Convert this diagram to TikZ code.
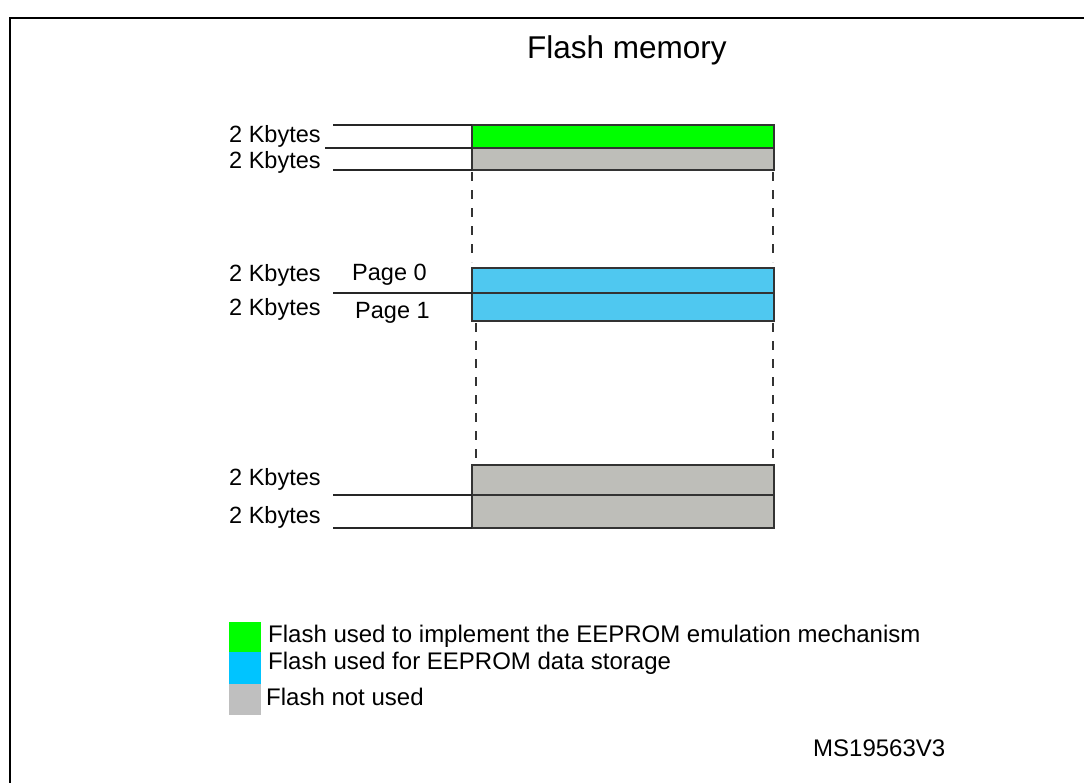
\documentclass[tikz,border=0pt]{standalone}
\usepackage{fontspec}
\setmainfont{Liberation Sans}
\begin{document}
\begin{tikzpicture}[x=1pt,y=-1pt,
  memblock/.style={draw=black!80, line width=1.5pt, inner sep=0pt, outer sep=0pt,
    minimum width=302pt, anchor=north west},
  tick/.style={draw=black!85, line width=1.3pt},
  gap/.style={draw=black!80, line width=1.5pt, dash pattern=on 9pt off 9pt},
  kb/.style={font=\fontsize{23.5}{27}\selectfont, anchor=west, inner sep=0pt},
  pg/.style={font=\fontsize{23.5}{27}\selectfont, anchor=west, inner sep=0pt},
  lg/.style={font=\fontsize{24}{28}\selectfont, anchor=west, inner sep=0pt},
  swatch/.style={inner sep=0pt, outer sep=0pt, minimum width=32pt, anchor=north west}]
\useasboundingbox (0,0) rectangle (1084,782);
\definecolor{flgreen}{HTML}{00FF00}
\definecolor{flblue}{HTML}{4FC8F0}
\definecolor{flgray}{HTML}{BEBEB9}
\definecolor{lgblue}{HTML}{00C4FF}
\definecolor{lggray}{HTML}{BFBFBF}
% frame
\draw[line width=2.2pt] (10,790) -- (10,18) -- (1095,18);
% title
\node[font=\fontsize{31.5}{36}\selectfont] (title) at (627,50) {Flash memory};
% top blocks
\node[memblock, fill=flgreen, minimum height=23pt] (g1) at (472,125) {};
\node[memblock, fill=flgray, minimum height=22pt] (g2) at (472,148) {};
% middle blocks
\node[memblock, fill=flblue, minimum height=25pt] (b1) at (472,268) {};
\node[memblock, fill=flblue, minimum height=28pt] (b2) at (472,293) {};
% bottom blocks
\node[memblock, fill=flgray, minimum height=30pt] (u1) at (472,465) {};
\node[memblock, fill=flgray, minimum height=33pt] (u2) at (472,495) {};
% tick coordinates
\coordinate (t1) at (333,0);
\coordinate (t2) at (325,0);
\draw[tick] (g1.north west) -- (g1.north west -| t1);
\draw[tick] (g1.south west) -- (g1.south west -| t2);
\draw[tick] (g2.south west) -- (g2.south west -| t1);
\draw[tick] (b1.south west) -- (b1.south west -| t1);
\draw[tick] (u1.south west) -- (u1.south west -| t1);
\draw[tick] (u2.south west) -- (u2.south west -| t1);
% dashed gaps
\draw[gap] ([yshift=-2pt]g2.south west) -- ([yshift=6pt]b1.north west);
\draw[gap] ([xshift=-1pt,yshift=-2pt]g2.south east) -- ([xshift=-1pt,yshift=6pt]b1.north east);
\draw[gap] ([xshift=4pt,yshift=-2pt]b2.south west) -- ([xshift=4pt,yshift=7pt]u1.north west);
\draw[gap] ([xshift=-1pt,yshift=-2pt]b2.south east) -- ([xshift=-1pt,yshift=7pt]u1.north east);
% labels
\node[kb] (k1) at (229,136) {2 Kbytes};
\node[kb] (k2) at (229,162) {2 Kbytes};
\node[kb] (k3) at (229,275) {2 Kbytes};
\node[kb] (k4) at (229,309) {2 Kbytes};
\node[kb] (k5) at (229,479) {2 Kbytes};
\node[kb] (k6) at (229,517) {2 Kbytes};
\node[pg] (p0) at (352,275) {Page 0};
\node[pg] (p1) at (355,313) {Page 1};
% legend
\node[swatch, fill=flgreen, minimum height=30pt] (s1) at (229,622) {};
\node[swatch, fill=lgblue, minimum height=32pt] (s2) at (229,652) {};
\node[swatch, fill=lggray, minimum height=31pt] (s3) at (229,684) {};
\node[lg] (l1) at (268,636) {Flash used to implement the EEPROM emulation mechanism};
\node[lg] (l2) at (268,663) {Flash used for EEPROM data storage};
\node[lg] (l3) at (266,697) {Flash not used};
\node[lg] (ms) at (813,748) {MS19563V3};
\end{tikzpicture}
\end{document}
